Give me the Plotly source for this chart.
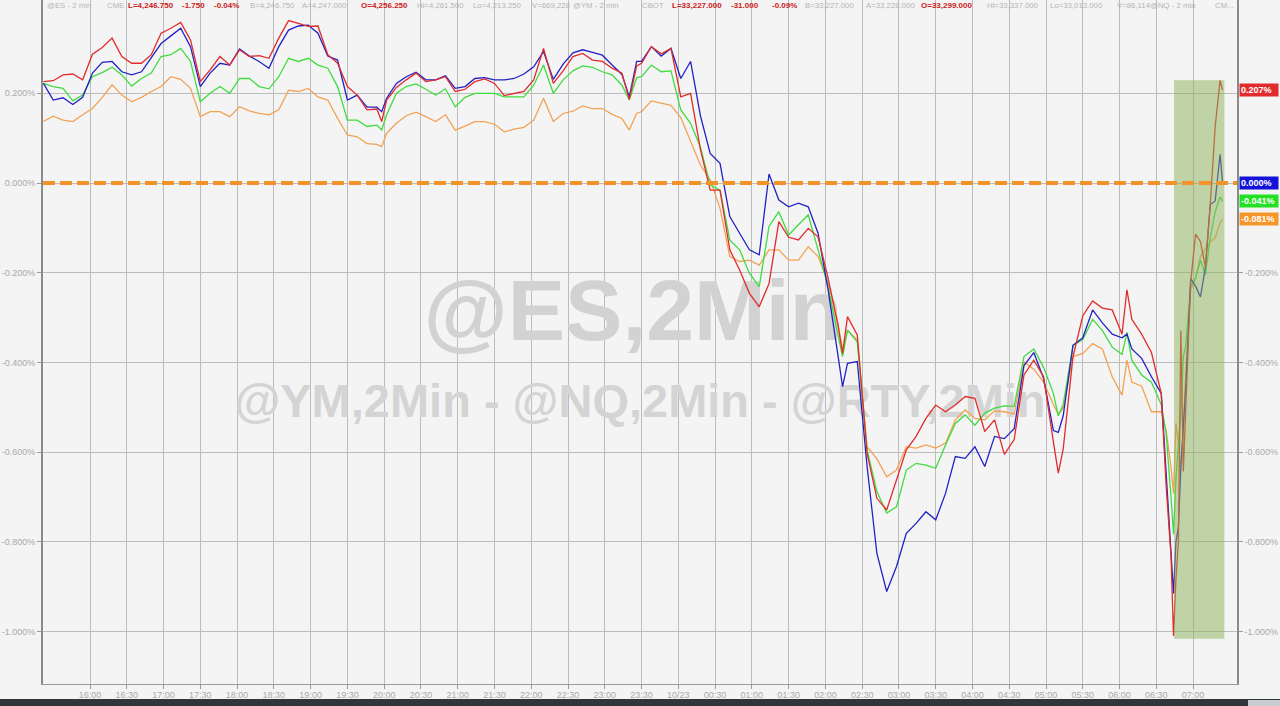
import plotly.graph_objects as go

# time axis: minutes after 15:00 (2-minute bars, sampled)
times = [
    22, 30, 38, 46, 54, 62, 70, 78, 86, 94, 102, 110, 118, 126, 134, 142, 150, 158, 166, 174,
    182, 190, 198, 206, 214, 222, 230, 238, 246, 254, 262, 270, 278, 286,
    294, 298, 302, 310, 318, 326, 334, 342, 350, 358, 366, 374, 382, 390, 398, 406, 414, 422,
    430, 438, 446, 454, 462, 470, 478, 486, 494, 500, 506, 510, 518, 526, 534, 542, 550,
    558, 566, 574, 582, 590, 598, 606, 614, 622, 630, 638, 646, 654, 662, 670, 674, 678, 686,
    694, 702, 710, 718, 726, 734, 742, 750, 758, 766, 774, 782, 790, 798, 806,
    814, 822, 830, 838, 846, 850, 854, 862, 870, 878, 886, 894, 902, 906, 910, 918, 926, 934,
    938, 942, 944, 946, 948, 950, 952, 954, 958, 962, 966, 970, 974, 978, 982, 984,
]

red_pct = [
    0.226, 0.228, 0.241, 0.243, 0.230, 0.287, 0.302, 0.323, 0.282, 0.267, 0.267, 0.286, 0.334, 0.345, 0.358, 0.319, 0.226, 0.252, 0.282, 0.263,
    0.297, 0.282, 0.284, 0.278, 0.323, 0.362, 0.356, 0.349, 0.350, 0.286, 0.267, 0.215, 0.196, 0.163,
    0.165, 0.137, 0.185, 0.213, 0.230, 0.245, 0.226, 0.230, 0.237, 0.204, 0.209, 0.226, 0.232, 0.222, 0.195, 0.200, 0.204, 0.230,
    0.300, 0.222, 0.250, 0.282, 0.289, 0.274, 0.271, 0.256, 0.245, 0.186, 0.261, 0.267, 0.304, 0.288, 0.300, 0.192, 0.200,
    0.075, -0.016, -0.016, -0.149, -0.194, -0.246, -0.276, -0.224, -0.086, -0.121, -0.127, -0.101, -0.120, -0.210, -0.313, -0.380, -0.298, -0.339,
    -0.603, -0.703, -0.729, -0.662, -0.595, -0.565, -0.525, -0.495, -0.510, -0.495, -0.476, -0.480, -0.554, -0.528, -0.605,
    -0.572, -0.428, -0.395, -0.432, -0.577, -0.647, -0.593, -0.387, -0.296, -0.263, -0.279, -0.283, -0.337, -0.238, -0.304, -0.337, -0.378, -0.469,
    -0.676, -0.833, -1.010, -0.882, -0.800, -0.329, -0.643, -0.510, -0.221, -0.114, -0.131, -0.188, -0.048, 0.126, 0.229, 0.207,
]

blue_pct = [
    0.222, 0.185, 0.190, 0.175, 0.191, 0.245, 0.269, 0.271, 0.248, 0.241, 0.248, 0.280, 0.311, 0.328, 0.345, 0.304, 0.215, 0.245, 0.267, 0.263,
    0.299, 0.283, 0.271, 0.256, 0.304, 0.341, 0.350, 0.352, 0.334, 0.283, 0.274, 0.185, 0.196, 0.169,
    0.169, 0.159, 0.189, 0.222, 0.237, 0.247, 0.230, 0.230, 0.239, 0.211, 0.215, 0.233, 0.235, 0.230, 0.230, 0.233, 0.243, 0.259,
    0.293, 0.231, 0.265, 0.290, 0.297, 0.291, 0.285, 0.263, 0.242, 0.192, 0.271, 0.271, 0.304, 0.283, 0.300, 0.233, 0.271,
    0.150, 0.066, 0.044, -0.075, -0.112, -0.149, -0.160, 0.020, -0.038, -0.053, -0.045, -0.053, -0.112, -0.235, -0.380, -0.454, -0.402, -0.398,
    -0.632, -0.826, -0.911, -0.855, -0.781, -0.759, -0.733, -0.751, -0.692, -0.610, -0.614, -0.588, -0.632, -0.565, -0.570,
    -0.548, -0.407, -0.378, -0.436, -0.552, -0.556, -0.519, -0.362, -0.345, -0.283, -0.312, -0.337, -0.345, -0.337, -0.370, -0.391, -0.432, -0.469,
    -0.651, -0.849, -0.915, -0.800, -0.767, -0.634, -0.535, -0.453, -0.213, -0.230, -0.254, -0.188, -0.048, -0.040, 0.064, 0.000,
]

green_pct = [
    0.222, 0.215, 0.211, 0.183, 0.196, 0.237, 0.246, 0.258, 0.241, 0.216, 0.233, 0.245, 0.282, 0.286, 0.300, 0.271, 0.181, 0.200, 0.215, 0.200,
    0.233, 0.233, 0.215, 0.210, 0.237, 0.278, 0.271, 0.278, 0.263, 0.256, 0.215, 0.140, 0.140, 0.126,
    0.129, 0.118, 0.152, 0.200, 0.215, 0.221, 0.209, 0.196, 0.210, 0.170, 0.191, 0.200, 0.200, 0.200, 0.192, 0.192, 0.192, 0.218,
    0.263, 0.200, 0.230, 0.250, 0.261, 0.258, 0.248, 0.241, 0.218, 0.185, 0.235, 0.237, 0.263, 0.248, 0.250, 0.163, 0.133,
    0.080, -0.004, -0.016, -0.127, -0.149, -0.201, -0.231, -0.097, -0.064, -0.116, -0.093, -0.071, -0.149, -0.230, -0.335, -0.387, -0.328, -0.354,
    -0.595, -0.688, -0.736, -0.722, -0.640, -0.625, -0.629, -0.636, -0.584, -0.536, -0.517, -0.540, -0.513, -0.502, -0.497,
    -0.498, -0.387, -0.370, -0.411, -0.469, -0.519, -0.494, -0.362, -0.349, -0.304, -0.329, -0.366, -0.382, -0.333, -0.395, -0.428, -0.444, -0.494,
    -0.560, -0.700, -0.783, -0.659, -0.577, -0.510, -0.387, -0.362, -0.230, -0.213, -0.172, -0.205, -0.122, -0.064, -0.031, -0.041,
]

orange_pct = [
    0.137, 0.149, 0.140, 0.137, 0.152, 0.166, 0.191, 0.219, 0.196, 0.181, 0.191, 0.204, 0.215, 0.237, 0.231, 0.211, 0.148, 0.159, 0.159, 0.148,
    0.170, 0.161, 0.155, 0.152, 0.163, 0.207, 0.204, 0.211, 0.192, 0.185, 0.144, 0.107, 0.103, 0.088,
    0.086, 0.081, 0.111, 0.133, 0.150, 0.158, 0.148, 0.137, 0.152, 0.118, 0.127, 0.137, 0.137, 0.131, 0.114, 0.120, 0.124, 0.140,
    0.189, 0.137, 0.155, 0.160, 0.172, 0.166, 0.166, 0.153, 0.144, 0.118, 0.155, 0.159, 0.183, 0.178, 0.173, 0.146, 0.095,
    0.040, 0.007, -0.056, -0.164, -0.175, -0.172, -0.183, -0.149, -0.149, -0.172, -0.172, -0.142, -0.164, -0.220, -0.309, -0.372, -0.328, -0.350,
    -0.588, -0.615, -0.655, -0.640, -0.588, -0.591, -0.584, -0.591, -0.580, -0.528, -0.506, -0.525, -0.528, -0.508, -0.510,
    -0.515, -0.399, -0.415, -0.444, -0.494, -0.515, -0.502, -0.387, -0.380, -0.358, -0.370, -0.432, -0.473, -0.395, -0.444, -0.453, -0.510, -0.510,
    -0.552, -0.634, -0.692, -0.535, -0.577, -0.634, -0.552, -0.428, -0.238, -0.213, -0.164, -0.147, -0.131, -0.122, -0.089, -0.081,
]

last_labels = ["0.207%", "0.000%", "-0.041%", "-0.081%"]
last_values = [0.207, 0.000, -0.041, -0.081]

x_tickvals = list(range(60, 961, 30))
x_ticktext = ["16:00", "16:30", "17:00", "17:30", "18:00", "18:30", "19:00", "19:30", "20:00", "20:30",
              "21:00", "21:30", "22:00", "22:30", "23:00", "23:30", "10/23", "00:30", "01:00", "01:30",
              "02:00", "02:30", "03:00", "03:30", "04:00", "04:30", "05:00", "05:30", "06:00", "06:30", "07:00"]
y_tickvals = [0.2, 0.0, -0.2, -0.4, -0.6, -0.8, -1.0]
y_ticktext = [f"{v:.3f}%" for v in y_tickvals]
y2_tickvals = [-0.2, -0.4, -0.6, -0.8, -1.0]
y2_ticktext = [f"{v:.3f}%" for v in y2_tickvals]

highlight_start, highlight_end = 944.5, 985.5
highlight_top, highlight_bottom = 0.229, -1.016

X_RANGE = [21.65, 995.8]
Y_RANGE = [-1.117, 0.408]

# layout geometry
W, H = 1280, 706
ML, MR, MT, MB = 43, 43, 0, 22
PW, PH = W - ML - MR, H - MT - MB


def px_to_paper_x(px):
    return (px - ML) / PW


def px_to_paper_y(py):
    return (PH + MT - py) / PH


def px_to_data(px, py):
    xd = X_RANGE[0] + (px - ML) / PW * (X_RANGE[1] - X_RANGE[0])
    yd = Y_RANGE[1] - (py - MT) / PH * (Y_RANGE[1] - Y_RANGE[0])
    return xd, yd


RED, BLUE, GREEN, ORANGE = "#e02c2c", "#2222c4", "#3fdc3f", "#f2a254"
BG = "#f4f4f4"
GRID = "#bcbcbc"
TICKC = "#a9a9a9"
FONT = "Liberation Sans"

fig = go.Figure()

# watermark (behind the lines)
wx1, wy1 = px_to_data(633, 318)
wx2, wy2 = px_to_data(640, 405)
fig.add_trace(go.Scatter(x=[wx1], y=[wy1], mode="text", text=["@ES,2Min"],
                         textfont=dict(family=FONT, size=86, color="#d2d2d2", weight="bold"),
                         hoverinfo="skip", showlegend=False))
fig.add_trace(go.Scatter(x=[wx2], y=[wy2], mode="text", text=["@YM,2Min - @NQ,2Min - @RTY,2Min"],
                         textfont=dict(family=FONT, size=47, color="#d4d4d4", weight="bold"),
                         hoverinfo="skip", showlegend=False))

for vals, col in [(orange_pct, ORANGE), (green_pct, GREEN), (blue_pct, BLUE), (red_pct, RED)]:
    fig.add_trace(go.Scatter(x=times, y=vals, mode="lines", line=dict(color=col, width=1.3),
                             hoverinfo="skip", showlegend=False))

fig.add_trace(go.Scatter(x=[None], y=[None], yaxis="y2", showlegend=False, hoverinfo="skip"))

shapes = [
    dict(type="rect", xref="x", yref="y", x0=highlight_start, x1=highlight_end,
         y0=highlight_bottom, y1=highlight_top, fillcolor="rgba(140,178,90,0.5)",
         line=dict(width=0), layer="above"),
    dict(type="line", xref="paper", yref="y", x0=0, x1=1, y0=0, y1=0,
         line=dict(color="#f2932a", width=4, dash="12px,5px"), layer="above"),
    dict(type="rect", xref="paper", yref="paper", x0=px_to_paper_x(0), x1=px_to_paper_x(W),
         y0=px_to_paper_y(H + 2), y1=px_to_paper_y(699), fillcolor="#31363b", line=dict(width=0)),
    dict(type="rect", xref="paper", yref="paper", x0=px_to_paper_x(1248), x1=px_to_paper_x(W),
         y0=px_to_paper_y(H + 2), y1=px_to_paper_y(700), fillcolor="#c9cdd1", line=dict(width=0)),
]

annotations = []
for lab, val, col in zip(last_labels, last_values, [RED, "#1212d8", "#22e022", "#f5962a"]):
    annotations.append(dict(xref="paper", yref="y", x=px_to_paper_x(1239), y=val, xanchor="left",
                            yanchor="middle", text=f"<b>{lab}</b>", showarrow=False,
                            font=dict(family=FONT, size=9, color="white"), bgcolor=col,
                            borderpad=1, width=36, align="left"))

GRAYH = "#b4b4b4"
REDH = "#cc2020"
header = [
    ("@ES - 2 min", 45, GRAYH, False), ("CME", 105, GRAYH, False),
    ("L=4,246.750", 126, REDH, True), ("-1.750", 180, REDH, True), ("-0.04%", 212, REDH, True),
    ("B=4,246.750", 248, GRAYH, False), ("A=4,247.000", 300, GRAYH, False),
    ("O=4,256.250", 359, REDH, True), ("Hi=4,261.500", 415, GRAYH, False),
    ("Lo=4,213.250", 471, GRAYH, False), ("V=669,228", 530, GRAYH, False),
    ("@YM - 2 min", 571, GRAYH, False), ("CBOT", 640, GRAYH, False),
    ("L=33,227.000", 670, REDH, True), ("-31.000", 729, REDH, True), ("-0.09%", 770, REDH, True),
    ("B=33,227.000", 803, GRAYH, False), ("A=33,228.000", 864, GRAYH, False),
    ("O=33,299.000", 919, REDH, True), ("Hi=33,337.000", 985, GRAYH, False),
    ("Lo=33,013.000", 1048, GRAYH, False), ("V=86,114", 1115, GRAYH, False),
    ("@NQ - 2 min", 1148, GRAYH, False), ("CM...", 1213, GRAYH, False),
]
for txt, px, col, bold in header:
    annotations.append(dict(xref="paper", yref="paper", x=px_to_paper_x(px), y=px_to_paper_y(5.5),
                            xanchor="left", yanchor="middle", showarrow=False,
                            text=f"<b>{txt}</b>" if bold else txt,
                            font=dict(family=FONT, size=8 if bold else 7.8, color=col)))

fig.update_layout(
    width=W, height=H, margin=dict(l=ML, r=MR, t=MT, b=MB, pad=0),
    paper_bgcolor=BG, plot_bgcolor=BG, showlegend=False,
    shapes=shapes, annotations=annotations,
    xaxis=dict(range=X_RANGE, tickmode="array", tickvals=x_tickvals, ticktext=x_ticktext,
               showgrid=True, gridcolor=GRID, gridwidth=1, zeroline=False,
               ticks="outside", ticklen=4, tickcolor="#9a9a9a", showline=True, linecolor="#9a9a9a",
               linewidth=1, ticklabelstandoff=-2, tickfont=dict(family=FONT, size=9, color=TICKC)),
    yaxis=dict(range=Y_RANGE, tickmode="array", tickvals=y_tickvals, ticktext=y_ticktext,
               showgrid=True, gridcolor=GRID, gridwidth=1, zeroline=False,
               ticks="outside", ticklen=4, tickcolor="#9a9a9a", showline=True, linecolor="#8a8a8a",
               linewidth=2, tickfont=dict(family=FONT, size=9, color=TICKC)),
    yaxis2=dict(range=Y_RANGE, overlaying="y", side="right", tickmode="array",
                tickvals=y2_tickvals, ticktext=y2_ticktext, showgrid=False, zeroline=False,
                ticks="outside", ticklen=4, tickcolor="#9a9a9a", showline=True, linecolor="#8a8a8a",
                linewidth=1.5, tickfont=dict(family=FONT, size=9, color=TICKC)),
)

fig.write_html("out.html", config={"displayModeBar": False},
               post_script="document.body.style.margin='0px';document.body.style.overflow='hidden';")
